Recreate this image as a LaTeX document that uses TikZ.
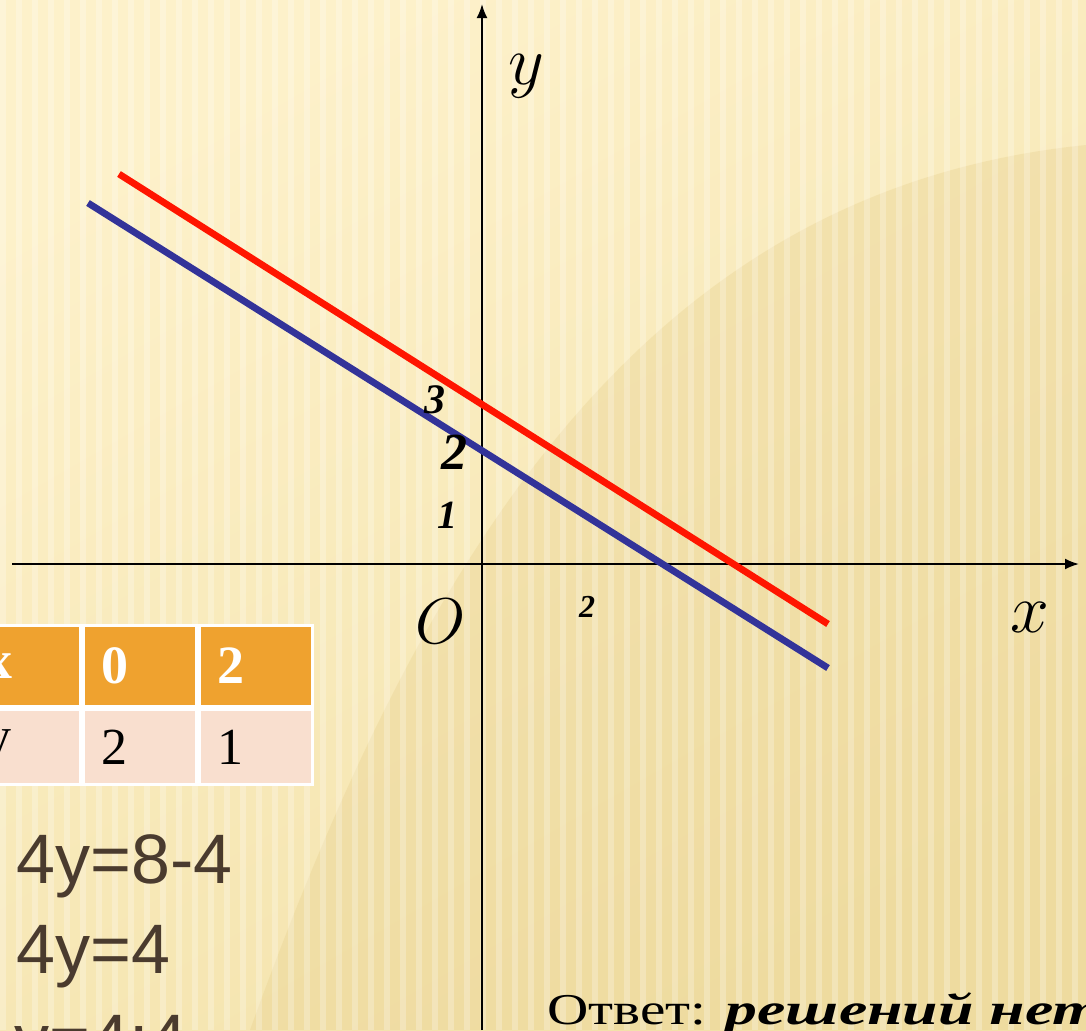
\documentclass[tikz,border=0pt]{standalone}
\usepackage{fontspec}
\setmainfont{Liberation Serif}
\newfontfamily\eqfont{Liberation Sans}
\newfontfamily\ansfont[FakeStretch=1.3]{Liberation Serif}
\newfontfamily\ansbold[FakeStretch=1.45]{Liberation Serif}
\usetikzlibrary{arrows.meta,positioning}
\usepackage{xcolor}
\definecolor{bgLight}{HTML}{FDF1CA}
\definecolor{bgMid}{HTML}{F3E2AA}
\definecolor{bgDark}{HTML}{E5CC88}
\definecolor{headOrange}{HTML}{EFA22F}
\definecolor{rowPink}{HTML}{F9DFCF}
\definecolor{lineRed}{HTML}{FF1500}
\definecolor{lineBlue}{HTML}{333399}
\definecolor{eqBrown}{HTML}{4A3B2E}

\begin{document}
\begin{tikzpicture}[
  x=0.5pt, y=-0.5pt,
  axis/.style={line width=1pt, -{Latex[length=7pt,width=5.5pt]}},
  graph/.style={line width=3.4pt},
  tick/.style={font=\fontsize{#1}{#1}\selectfont\itshape, inner sep=0pt},
  axislabel/.style={inner sep=0pt, font=\Huge},
  cell/.style={draw=white, line width=1.5pt, minimum width=56.5pt, text width=38.5pt, inner xsep=9pt, inner ysep=0pt,
    align=left, font=\fontsize{26}{30}\selectfont},
  headcell/.style={cell, fill=headOrange, text=white, minimum height=40.5pt, font=\fontsize{27}{30}\selectfont\bfseries},
  rowcell/.style={cell, fill=rowPink, text=black, minimum height=37.5pt},
  eq/.style={anchor=base west, inner sep=0pt, text=eqBrown, font=\eqfont\fontsize{35}{40}\selectfont}
]

\useasboundingbox (0,0) rectangle (1086,1030);
\clip (0,0) rectangle (1086,1030);

\shade[top color=bgLight, bottom color=bgMid, shading angle=30] (0,0) rectangle (1086,1030);
\fill[bgDark, opacity=0.3] (250,1030) .. controls (420,560) and (640,190) .. (1086,145) -- (1086,1030) -- cycle;
\foreach \i in {0,...,68}
  \fill[white, opacity=0.25] (\i*16,0) rectangle ++(6,1030);

\coordinate (ybot) at (482,1030);
\coordinate (ytop) at (482,4);
\coordinate (xleft) at (12,564);
\coordinate (xright) at (1079,564);
\draw[axis] (ybot) -- (ytop);
\draw[axis] (xleft) -- (xright);

\coordinate (redA) at (119,174);
\coordinate (redB) at (828,624);
\coordinate (blueA) at (88,203);
\coordinate (blueB) at (828,668);
\draw[graph, lineRed] (redA) -- (redB);
\draw[graph, lineBlue] (blueA) -- (blueB);

\node[axislabel] (ylab) at (526,76) {\scalebox{1.4}{$y$}};
\node[axislabel] (xlab) at (1030,617) {\scalebox{1.4}{$x$}};
\node[axislabel] (olab) at (441,621) {\scalebox{1.3}{$O$}};
\node[tick=21] (t3) at (435,400) {\textbf{3}};
\node[tick=26] (t2) at (454,452) {\textbf{2}};
\node[tick=20] (t1) at (447,515) {\textbf{1}};
\node[tick=16] (tx2) at (587,607) {\textbf{2}};

\node[headcell, anchor=north west] (hx) at (-34,624) {x};
\node[headcell, right=0pt of hx] (h0) {0};
\node[headcell, right=0pt of h0] (h2) {2};
\node[rowcell, below=0pt of hx] (ry) {y};
\node[rowcell, below=0pt of h0] (r2) {2};
\node[rowcell, below=0pt of h2] (r1) {1};

\node[eq] (eq1) at (16,883) {4y=8-4};
\node[eq] (eq2) at (16,973) {4y=4};
\node[eq] (eq3) at (14,1063) {y=4:4};

\node[anchor=base west, inner sep=0pt, font=\ansfont\fontsize{22}{26}\selectfont] (answer) at (547,1024)
  {Ответ: {\ansbold\bfseries\itshape решений нет}};

\end{tikzpicture}
\end{document}
